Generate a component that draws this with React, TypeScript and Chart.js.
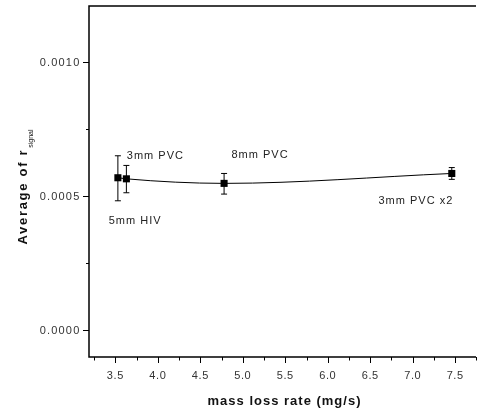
import React, { useEffect, useRef } from 'react';
import { Chart, registerables } from 'chart.js';

Chart.register(...registerables);

// ---- data ----
const massLossRate = [3.53, 3.63, 4.78, 7.46];
const avgSignal = [0.000569, 0.000565, 0.000548, 0.000585];
const errLow = [0.000483, 0.000513, 0.000508, 0.000563];
const errHigh = [0.000651, 0.000615, 0.000585, 0.000607];

const xMajorTicks = [3.5, 4.0, 4.5, 5.0, 5.5, 6.0, 6.5, 7.0, 7.5];
const xTickLabels = ['3.5', '4.0', '4.5', '5.0', '5.5', '6.0', '6.5', '7.0', '7.5'];
const xMinorTicks = [3.25, 3.75, 4.25, 4.75, 5.25, 5.75, 6.25, 6.75, 7.25, 7.75];
const yMajorTicks = [0, 0.0005, 0.001];
const yTickLabels = ['0.0000', '0.0005', '0.0010'];
const yMinorTicks = [0.00025, 0.00075];

const annotationText = ['3mm PVC', '8mm PVC', '3mm PVC x2', '5mm HIV'];
const annotationX = [3.635, 4.867, 6.597, 3.422];
const annotationY = [0.000639, 0.000643, 0.000471, 0.000396];

const xTitle = 'mass loss rate (mg/s)';
const yTitleMain = 'Average of r';
const yTitleSub = 'signal';

const FONT = '"Liberation Sans", Arial, sans-serif';

const customDraw = {
  id: 'customDraw',
  beforeDatasetsDraw(chart: any) {
    const ctx = chart.ctx as CanvasRenderingContext2D;
    const xs = chart.scales.x;
    const ys = chart.scales.y;
    ctx.save();
    ctx.strokeStyle = '#000';
    ctx.lineWidth = 1;
    for (let i = 0; i < massLossRate.length; i++) {
      const px = xs.getPixelForValue(massLossRate[i]);
      const top = ys.getPixelForValue(errHigh[i]);
      const bot = ys.getPixelForValue(errLow[i]);
      ctx.beginPath();
      ctx.moveTo(px, top);
      ctx.lineTo(px, bot);
      ctx.moveTo(px - 3, top);
      ctx.lineTo(px + 3, top);
      ctx.moveTo(px - 3, bot);
      ctx.lineTo(px + 3, bot);
      ctx.stroke();
    }
    ctx.restore();
  },
  afterDraw(chart: any) {
    const ctx = chart.ctx as CanvasRenderingContext2D;
    const ca = chart.chartArea;
    const xs = chart.scales.x;
    const ys = chart.scales.y;
    ctx.save();
    // axes frame
    ctx.strokeStyle = '#000';
    ctx.lineWidth = 1.5;
    ctx.beginPath();
    ctx.moveTo(ca.right, ca.top);
    ctx.lineTo(ca.left, ca.top);
    ctx.lineTo(ca.left, ca.bottom);
    ctx.lineTo(ca.right, ca.bottom);
    ctx.stroke();

    // ticks
    ctx.lineWidth = 1;
    ctx.beginPath();
    xMajorTicks.forEach((v) => {
      const px = Math.round(xs.getPixelForValue(v)) + 0.5;
      ctx.moveTo(px, ca.bottom);
      ctx.lineTo(px, ca.bottom + 6);
    });
    xMinorTicks.forEach((v) => {
      const px = Math.round(xs.getPixelForValue(v)) + 0.5;
      ctx.moveTo(px, ca.bottom);
      ctx.lineTo(px, ca.bottom + 3.5);
    });
    yMajorTicks.forEach((v) => {
      const py = Math.round(ys.getPixelForValue(v)) + 0.5;
      ctx.moveTo(ca.left, py);
      ctx.lineTo(ca.left - 6, py);
    });
    yMinorTicks.forEach((v) => {
      const py = Math.round(ys.getPixelForValue(v)) + 0.5;
      ctx.moveTo(ca.left, py);
      ctx.lineTo(ca.left - 3, py);
    });
    ctx.stroke();

    // tick labels
    ctx.fillStyle = '#333';
    ctx.font = `11px ${FONT}`;
    (ctx as any).letterSpacing = '0.6px';
    ctx.textAlign = 'center';
    ctx.textBaseline = 'alphabetic';
    xMajorTicks.forEach((v, i) => {
      ctx.fillText(xTickLabels[i], xs.getPixelForValue(v), ca.bottom + 22);
    });
    (ctx as any).letterSpacing = '1.2px';
    ctx.textAlign = 'right';
    ctx.textBaseline = 'middle';
    yMajorTicks.forEach((v, i) => {
      ctx.fillText(yTickLabels[i], ca.left - 8.5, ys.getPixelForValue(v) + 0.5);
    });

    // annotations
    ctx.fillStyle = '#222';
    ctx.font = `11px ${FONT}`;
    (ctx as any).letterSpacing = '1px';
    ctx.textAlign = 'left';
    ctx.textBaseline = 'alphabetic';
    annotationText.forEach((t, i) => {
      ctx.fillText(t, xs.getPixelForValue(annotationX[i]), ys.getPixelForValue(annotationY[i]));
    });

    // x title
    ctx.fillStyle = '#111';
    ctx.font = `bold 13px ${FONT}`;
    (ctx as any).letterSpacing = '1px';
    ctx.textAlign = 'center';
    ctx.fillText(xTitle, (ca.left + ca.right) / 2 + 2, ca.bottom + 48);

    // y title (rotated, with subscript)
    ctx.font = `bold 13px ${FONT}`;
    (ctx as any).letterSpacing = '1.7px';
    const wMain = ctx.measureText(yTitleMain).width;
    ctx.font = `7px ${FONT}`;
    (ctx as any).letterSpacing = '0px';
    const wSub = ctx.measureText(yTitleSub).width;
    const total = wMain + 1 + wSub;
    const cy = (ca.top + ca.bottom) / 2 + 5.5;
    ctx.translate(27, cy + total / 2);
    ctx.rotate(-Math.PI / 2);
    ctx.textAlign = 'left';
    ctx.font = `bold 13px ${FONT}`;
    (ctx as any).letterSpacing = '1.7px';
    ctx.fillText(yTitleMain, 0, 0);
    ctx.font = `7px ${FONT}`;
    (ctx as any).letterSpacing = '0px';
    ctx.fillText(yTitleSub, wMain + 1, 5.5);
    ctx.restore();
  },
};

export default function App() {
  const canvasRef = useRef<HTMLCanvasElement | null>(null);

  useEffect(() => {
    if (!canvasRef.current) return;
    const points = massLossRate.map((x, i) => ({ x, y: avgSignal[i] }));
    const chart = new Chart(canvasRef.current, {
      type: 'line',
      data: {
        datasets: [
          {
            data: points,
            borderColor: '#000',
            borderWidth: 1,
            backgroundColor: '#000',
            pointStyle: 'rect',
            pointRadius: 5,
            pointBackgroundColor: '#000',
            pointBorderColor: '#000',
            pointBorderWidth: 0,
            cubicInterpolationMode: 'monotone',
            fill: false,
          },
        ],
      },
      options: {
        animation: false,
        responsive: false,
        devicePixelRatio: 1,
        layout: { padding: { top: 6, right: 0, left: 0, bottom: 0 } },
        plugins: {
          legend: { display: false },
          tooltip: { enabled: false },
        },
        scales: {
          x: {
            type: 'linear',
            min: 3.19,
            max: 7.745,
            grid: { display: false, drawTicks: false },
            border: { display: false },
            ticks: { display: false },
            afterFit: (scale: any) => {
              scale.height = 52;
            },
          },
          y: {
            type: 'linear',
            min: -0.0001,
            max: 0.00121,
            grid: { display: false, drawTicks: false },
            border: { display: false },
            ticks: { display: false },
            afterFit: (scale: any) => {
              scale.width = 89;
            },
          },
        },
      },
      plugins: [customDraw],
    });
    return () => chart.destroy();
  }, []);

  return (
    <div style={{ position: 'fixed', left: 0, top: 0, width: 481, height: 409, background: '#fff' }}>
      <canvas ref={canvasRef} width={481} height={409} style={{ display: 'block' }} />
    </div>
  );
}
